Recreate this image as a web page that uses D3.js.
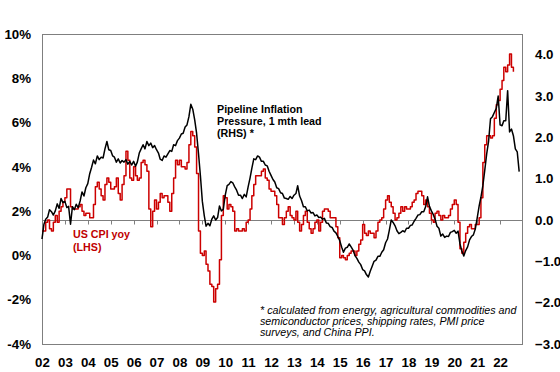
<!DOCTYPE html>
<html><head><meta charset="utf-8">
<script src="https://cdn.jsdelivr.net/npm/d3@7"></script>
<style>
html,body{margin:0;padding:0;background:#fff;}
svg{display:block;font-family:"Liberation Sans",Arial,sans-serif;}
</style></head>
<body><svg id="c" width="560" height="372"></svg>
<script>
// ---- data ----
const yearLabels = ["02","03","04","05","06","07","08","09","10","11","12","13","14","15","16","17","18","19","20","21","22"];
const leftTicks = [10,8,6,4,2,0,-2,-4];
const rightTicks = [4,3,2,1,0,-1,-2,-3];
// US CPI yoy (%), monthly from Jan 2002
const cpi = [
 1.1,1.1,1.5,1.6,1.2,1.1,1.5,1.8,1.5,2.0,2.2,2.4,
 2.6,3.0,3.0,2.2,2.1,2.1,2.1,2.2,2.3,2.0,1.8,1.9,
 1.9,1.7,1.7,2.3,3.1,3.3,3.0,2.7,2.5,3.2,3.5,3.3,
 3.0,3.0,3.1,3.5,2.8,2.5,3.2,3.6,4.7,4.3,3.5,3.4,
 4.0,3.6,3.4,3.5,4.2,4.3,4.1,3.8,2.1,1.3,2.0,2.5,
 2.1,2.4,2.8,2.6,2.7,2.7,2.4,2.0,2.8,3.5,4.3,4.1,
 4.3,4.0,4.0,3.9,4.2,5.0,5.6,5.4,4.9,3.7,1.1,0.1,
 0.0,0.2,-0.4,-0.7,-1.3,-1.4,-2.1,-1.5,-1.3,-0.2,1.8,2.7,
 2.6,2.1,2.3,2.2,2.0,1.1,1.2,1.1,1.1,1.2,1.1,1.5,
 1.6,2.1,2.7,3.2,3.6,3.6,3.6,3.8,3.9,3.5,3.4,3.0,
 2.9,2.9,2.7,2.3,1.7,1.7,1.4,1.7,2.0,2.2,1.8,1.7,
 1.6,2.0,1.5,1.1,1.4,1.8,2.0,1.5,1.2,1.0,1.2,1.5,
 1.6,1.1,1.5,2.0,2.1,2.1,2.0,1.7,1.7,1.7,1.3,0.8,
 -0.1,0.0,-0.1,-0.2,0.0,0.1,0.2,0.2,0.0,0.2,0.5,0.7,
 1.4,1.0,0.9,1.1,1.0,1.0,0.8,1.1,1.5,1.6,1.7,2.1,
 2.5,2.7,2.4,2.2,1.9,1.6,1.7,1.9,2.2,2.0,2.2,2.1,
 2.1,2.2,2.4,2.5,2.8,2.9,2.9,2.7,2.3,2.5,2.2,1.9,
 1.6,1.5,1.9,2.0,1.8,1.6,1.8,1.7,1.7,1.8,2.1,2.3,
 2.5,2.3,1.5,0.3,0.1,0.6,1.0,1.3,1.4,1.2,1.2,1.4,
 1.4,1.7,2.6,4.2,5.0,5.4,5.4,5.3,5.4,6.2,6.8,7.0,
 7.5,7.9,8.5,8.3,8.6,9.1,8.5,8.3
];
// Pipeline inflation pressure (RHS), monthly from Jan 2002
const pipeline = [
 -0.46,-0.1,0.02,0.07,0.25,0.2,0.12,0.22,0.39,0.28,0.52,0.42,
 0.45,0.3,0.33,-0.1,0.32,0.25,0.38,0.3,0.46,0.68,0.58,0.78,
 0.88,1.12,1.27,1.45,1.36,1.55,1.46,1.52,1.5,1.72,1.9,1.7,
 1.68,1.55,1.52,1.4,1.48,1.38,1.44,1.4,1.46,1.35,1.42,1.33,
 1.42,1.3,1.4,1.62,1.72,1.82,1.72,1.9,1.8,1.86,1.75,1.8,
 1.7,1.62,1.47,1.44,1.55,1.52,1.6,1.68,1.66,1.82,1.8,1.92,
 1.98,2.08,2.1,2.25,2.3,2.5,2.8,2.68,2.42,2.1,1.6,1.07,
 0.45,0.1,-0.15,-0.08,-0.14,0.02,0.1,0.0,0.06,0.34,0.22,0.26,
 0.6,0.83,0.86,0.93,0.9,0.8,0.72,0.6,0.6,0.52,0.62,0.56,
 0.8,1.02,1.25,1.48,1.46,1.55,1.52,1.42,1.42,1.33,1.31,1.18,
 1.08,0.98,0.92,0.78,0.76,0.66,0.64,0.53,0.52,0.5,0.57,0.52,
 0.6,0.64,0.83,0.58,0.47,0.32,0.32,0.22,0.24,0.17,0.18,0.1,
 0.12,0.06,0.07,0.02,0.04,-0.07,-0.08,-0.16,-0.18,-0.27,-0.31,-0.4,
 -0.5,-0.66,-0.78,-0.68,-0.66,-0.58,-0.65,-0.73,-0.86,-0.93,-1.02,-1.08,
 -1.2,-1.23,-1.32,-1.38,-1.24,-1.12,-1.0,-0.97,-0.88,-0.88,-0.78,-0.72,
 -0.55,-0.46,-0.25,0.0,-0.06,-0.14,-0.26,-0.33,-0.3,-0.26,-0.29,-0.2,
 -0.2,-0.13,-0.12,-0.03,0.04,0.12,0.13,0.2,0.2,0.32,0.56,0.33,
 0.22,0.13,0.02,-0.15,-0.2,-0.39,-0.34,-0.42,-0.39,-0.4,-0.3,-0.28,
 -0.25,-0.32,-0.27,-0.58,-0.75,-0.87,-0.74,-0.65,-0.48,-0.4,-0.36,-0.22,
 0.05,0.34,0.55,0.83,1.2,1.6,1.9,2.45,2.5,2.6,2.7,3.0,
 2.3,2.28,2.4,2.4,3.13,2.13,2.2,2.04,1.72,1.65,1.17
];

// ---- chart ----
const svg = d3.select("#c");
const L = 42, R = 523, T = 34, B = 344;
const monthDate = i => new Date(2002, i, 1);
const x = d3.scaleTime().domain([new Date(2002,0,1), new Date(2023,0,1)]).range([L, R]);
const yL = d3.scaleLinear().domain([-4,10]).range([B, T]);
const yR = d3.scaleLinear().domain([-3,4.5]).range([B, T]);

// plot border
svg.append("rect").attr("x",L+0.5).attr("y",T+0.5).attr("width",R-L-1).attr("height",B-T)
  .attr("fill","none").attr("stroke","#7f7f7f").attr("stroke-width",1);

// zero line (RHS 0) with year ticks
const zy = Math.round(yR(0))+0.5;
svg.append("line").attr("x1",L).attr("x2",R).attr("y1",zy).attr("y2",zy)
  .attr("stroke","#7f7f7f").attr("stroke-width",1);
const yearDates = yearLabels.map((d,i)=>new Date(2002+i,0,1));
svg.append("g").selectAll("line").data(yearDates).join("line")
  .attr("x1",d=>Math.round(x(d))+0.5).attr("x2",d=>Math.round(x(d))+0.5)
  .attr("y1",zy).attr("y2",zy+4).attr("stroke","#7f7f7f");

// lines
const cpiLine = d3.line().x((d,i)=>x(monthDate(i))).y(d=>yL(d)).curve(d3.curveStepAfter);
const pipeLine = d3.line().x((d,i)=>x(monthDate(i))).y(d=>yR(d));
svg.append("path").datum(cpi).attr("d",cpiLine).attr("fill","none")
  .attr("stroke","#cc0000").attr("stroke-width",1.5).attr("stroke-linejoin","round");
svg.append("path").datum(pipeline).attr("d",pipeLine).attr("fill","none")
  .attr("stroke","#000").attr("stroke-width",1.5).attr("stroke-linejoin","round");

// axes
const axL = d3.axisLeft(yL).tickValues(leftTicks).tickSize(0).tickPadding(11).tickFormat(d=>d+"%");
const gL = svg.append("g").attr("transform",`translate(${L},0)`).call(axL);
const axR = d3.axisRight(yR).tickValues(rightTicks).tickSize(0).tickPadding(12).tickFormat(d3.format(".1f"));
const gR = svg.append("g").attr("transform",`translate(${R},0)`).call(axR);
const axB = d3.axisBottom(x).tickValues(yearDates).tickSize(0).tickPadding(0).tickFormat((d,i)=>yearLabels[i]);
const gB = svg.append("g").attr("transform",`translate(0,${B})`).call(axB);
[gL,gR,gB].forEach(g=>{
  g.select(".domain").remove();
  g.selectAll("text").attr("font-family","Liberation Sans, Arial, sans-serif")
   .attr("font-size","13.3px").attr("font-weight","bold").attr("fill","#000");
});
gB.selectAll("text").attr("dy","0").attr("y",23);

// annotations
const pip = svg.append("text").attr("x",217).attr("y",113).attr("font-size","10.7px").attr("font-weight","bold").attr("fill","#000");
["Pipeline Inflation","Pressure, 1 mth lead","(RHS) *"].forEach((t,i)=>pip.append("tspan").attr("x",217).attr("dy",i?12.2:0).text(t));
const us = svg.append("text").attr("x",73).attr("y",238).attr("font-size","10.7px").attr("font-weight","bold").attr("fill","#c00000");
["US CPI yoy","(LHS)"].forEach((t,i)=>us.append("tspan").attr("x",73).attr("dy",i?13:0).text(t));
const fn = svg.append("text").attr("x",260).attr("y",314).attr("font-size","10.7px").attr("font-style","italic").attr("fill","#000");
["* calculated from energy, agricultural commodities and","semiconductor prices, shipping rates, PMI price","surveys, and China PPI."]
  .forEach((t,i)=>fn.append("tspan").attr("x",260).attr("dy",i?11:0).text(t));
</script></body></html>
